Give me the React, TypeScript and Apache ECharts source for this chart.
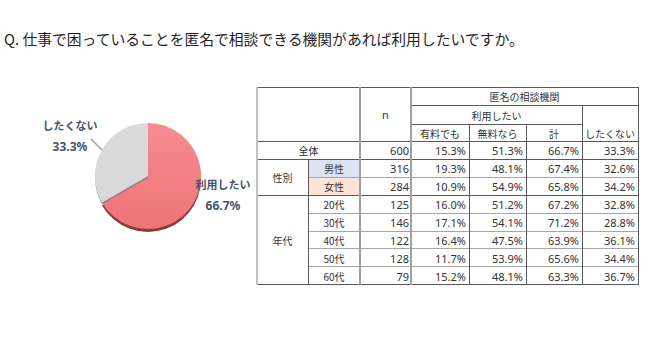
import React, { useEffect, useRef } from 'react';
import * as echarts from 'echarts';

// ---- data ----
const titleText = 'Q. 仕事で困っていることを匿名で相談できる機関があれば利用したいですか。';
const pieNames = ['利用したい', 'したくない'];
const pieValues = [66.7, 33.3];

const headerTop = '匿名の相談機関';
const headerMid = '利用したい';
const headerN = 'n';
const subHeaders = ['有料でも', '無料なら', '計', 'したくない'];
const groupNames = ['性別', '年代'];
const rowLabels = ['全体', '男性', '女性', '20代', '30代', '40代', '50代', '60代'];
const nValues = [600, 316, 284, 125, 146, 122, 128, 79];
const paidPct = [15.3, 19.3, 10.9, 16.0, 17.1, 16.4, 11.7, 15.2];
const freePct = [51.3, 48.1, 54.9, 51.2, 54.1, 47.5, 53.9, 48.1];
const totalPct = [66.7, 67.4, 65.8, 67.2, 71.2, 63.9, 65.6, 63.3];
const notPct = [33.3, 32.6, 34.2, 32.8, 28.8, 36.1, 34.4, 36.7];

// ---- layout (table units, grid-relative; 1 unit = 1 px) ----
const GRID_LEFT = 257;
const GRID_TOP = 87;
const COLS = [0, 51, 103, 154, 212, 269, 325, 381];
const HEAD = [0, 18, 37, 54.5];
const ROW_H = 17.9;
const TBL_H = 198;
const rowTop = (i: number) => HEAD[3] + i * ROW_H;
const LEADER: number[][] = [[102, 150], [97, 145], [91, 139]];

const CJK = "'Noto Sans CJK JP', sans-serif";
const LAT = "'Noto Sans', 'Noto Sans CJK JP', sans-serif";

type Cell = { x0: number; x1: number; y0: number; y1: number; text: string; align: 'center' | 'right'; fill?: string; font: string; size: number };

function buildCells(): Cell[] {
  const cells: Cell[] = [];
  const c = (x0: number, x1: number, y0: number, y1: number, text: string, align: 'center' | 'right' = 'center', font = CJK, size = 10, fill?: string) =>
    cells.push({ x0, x1, y0, y1, text, align, font, size, fill });
  c(COLS[2], COLS[3], HEAD[0], HEAD[3], headerN, 'center', LAT, 11);
  c(COLS[3], COLS[7], HEAD[0], HEAD[1], headerTop);
  c(COLS[3], COLS[6], HEAD[1], HEAD[2], headerMid);
  subHeaders.forEach((s, k) => c(COLS[3 + k], COLS[4 + k], HEAD[2], HEAD[3], s));
  c(COLS[0], COLS[2], rowTop(0), rowTop(1), rowLabels[0]);
  c(COLS[0], COLS[1], rowTop(1), rowTop(3), groupNames[0]);
  c(COLS[0], COLS[1], rowTop(3), rowTop(8), groupNames[1]);
  const fills: Record<number, string> = { 1: '#DCE3F2', 2: '#FCE4D6' };
  for (let i = 0; i < rowLabels.length; i++) {
    if (i > 0) c(COLS[1], COLS[2], rowTop(i), rowTop(i + 1), rowLabels[i], 'center', CJK, 10, fills[i]);
    c(COLS[2], COLS[3], rowTop(i), rowTop(i + 1), String(nValues[i]), 'right', LAT, 11);
    [paidPct, freePct, totalPct, notPct].forEach((arr, k) =>
      c(COLS[3 + k], COLS[4 + k], rowTop(i), rowTop(i + 1), arr[i].toFixed(1) + '%', 'right', LAT, 11)
    );
  }
  return cells;
}

type Ln = { x0: number; y0: number; x1: number; y1: number; color: string; w: number };
function buildLines(): Ln[] {
  const L: Ln[] = [];
  const DARK = '#595959', MINOR = '#a6a6a6', GRAY2 = '#a0a0a0', LEFT = '#bfbfbf';
  const h = (y: number, x0: number, x1: number, color = DARK, w = 1) => L.push({ x0, y0: y, x1, y1: y, color, w });
  const v = (x: number, y0: number, y1: number, color = DARK, w = 1) => L.push({ x0: x, y0, x1: x, y1, color, w });
  h(0, COLS[0], COLS[7]);
  h(HEAD[1], COLS[3], COLS[7]);
  h(HEAD[2], COLS[3], COLS[6]);
  h(HEAD[3], COLS[0], COLS[7]);
  h(rowTop(1), COLS[0], COLS[7]);
  h(rowTop(2), COLS[1], COLS[7], MINOR);
  h(rowTop(3), COLS[0], COLS[7]);
  for (let i = 4; i < 8; i++) h(rowTop(i), COLS[1], COLS[7], MINOR);
  h(rowTop(8), COLS[0], COLS[7]);
  v(COLS[1], rowTop(1), rowTop(8));
  v(COLS[4], HEAD[2], rowTop(8));
  v(COLS[5], HEAD[2], rowTop(8));
  v(COLS[6], HEAD[1], rowTop(8));
  v(COLS[7], 0, rowTop(8));
  v(COLS[2], 0, rowTop(8), GRAY2, 2);
  v(COLS[3], 0, rowTop(8), GRAY2, 2);
  v(COLS[0], 0, rowTop(8), LEFT, 2);
  // pie leader line (page px converted to grid units)
  L.push({
    x0: LEADER[0][0] - GRID_LEFT, y0: LEADER[0][1] - GRID_TOP,
    x1: LEADER[2][0] - GRID_LEFT, y1: LEADER[2][1] - GRID_TOP,
    color: '#a8a8a8', w: 1.3,
  });
  return L;
}

export default function App() {
  const ref = useRef<HTMLDivElement>(null);
  useEffect(() => {
    if (!ref.current) return;
    const chart = echarts.init(ref.current, undefined, { renderer: 'svg' });
    const cells = buildCells();
    const lines = buildLines();
    const crisp = (p: number, w: number) => (w % 2 === 1 ? Math.round(p - 0.5) + 0.5 : Math.round(p));

    const labelPos: Record<number, [number, number]> = { 0: [223, 194.5], 1: [70, 135.5] };

    chart.setOption({
      animation: false,
      backgroundColor: '#ffffff',
      title: {
        text: titleText,
        left: 4,
        top: 31,
        padding: 0,
        textStyle: { fontSize: 14.8, fontWeight: 'normal', color: '#1f1f1f', fontFamily: CJK },
      },
      grid: { left: GRID_LEFT, top: GRID_TOP, width: COLS[7], height: TBL_H },
      xAxis: { type: 'value', min: 0, max: COLS[7], show: false },
      yAxis: { type: 'value', min: 0, max: TBL_H, inverse: true, show: false },
      series: [
        {
          type: 'pie',
          z: 1,
          center: [148, 176],
          radius: 53,
          startAngle: 90,
          clockwise: true,
          label: {
            show: true,
            overflow: 'none',
            width: 80,
            formatter: '{n|{b}}\n{v|{c}%}',
            color: '#44546A',
            rich: {
              n: { fontSize: 11, fontWeight: 'bold', fontFamily: CJK, color: '#44546A', lineHeight: 22, align: 'center' },
              v: { fontSize: 12, fontWeight: 'bold', fontFamily: LAT, color: '#44546A', lineHeight: 22, align: 'center' },
            },
          },
          labelLine: { show: true, length: 8, length2: 4, lineStyle: { color: '#a8a8a8', width: 1.3 } },
          labelLayout: (p: any) =>
            p.dataIndex === 1
              ? { x: labelPos[1][0], y: labelPos[1][1], align: 'center', verticalAlign: 'middle', labelLinePoints: LEADER }
              : { x: labelPos[0][0], y: labelPos[0][1], align: 'center', verticalAlign: 'middle' },
          data: pieNames.map((name, i) => ({
            name,
            value: pieValues[i],
            labelLine: { show: i === 1 },
            itemStyle:
              i === 0
                ? {
                    color: new echarts.graphic.LinearGradient(0, 0, 0, 1, [
                      { offset: 0, color: '#F58D90' },
                      { offset: 1, color: '#EE7376' },
                    ]),
                    shadowColor: 'rgba(130,35,35,0.9)',
                    shadowOffsetY: 3,
                    shadowBlur: 1,
                  }
                : {
                    color: '#D9D9D9',
                    shadowColor: 'rgba(120,120,120,0.7)',
                    shadowOffsetY: 2,
                    shadowBlur: 1,
                  },
          })),
        },
        {
          type: 'custom',
          coordinateSystem: 'cartesian2d',
          clip: false,
          z: 2,
          silent: true,
          data: cells.map((c) => [c.x0, c.y0, c.x1, c.y1]),
          renderItem: (params: any, api: any) => {
            const cell = cells[params.dataIndex];
            const p0 = api.coord([api.value(0), api.value(1)]);
            const p1 = api.coord([api.value(2), api.value(3)]);
            const children: any[] = [];
            if (cell.fill) {
              children.push({ type: 'rect', shape: { x: p0[0], y: p0[1], width: p1[0] - p0[0], height: p1[1] - p0[1] }, style: { fill: cell.fill } });
            }
            const pad = cell.text.endsWith('%') ? 3 : 2;
            children.push({
              type: 'text',
              x: cell.align === 'center' ? (p0[0] + p1[0]) / 2 : p1[0] - pad,
              y: (p0[1] + p1[1]) / 2 + 0.5,
              style: {
                text: cell.text,
                fill: '#333333',
                fontSize: cell.size,
                fontFamily: cell.font,
                align: cell.align,
                verticalAlign: 'middle',
              },
            });
            return { type: 'group', children };
          },
        },
        {
          type: 'custom',
          coordinateSystem: 'cartesian2d',
          clip: false,
          z: 10,
          silent: true,
          data: lines.map((l) => [l.x0, l.y0, l.x1, l.y1]),
          renderItem: (params: any, api: any) => {
            const l = lines[params.dataIndex];
            const p0 = api.coord([api.value(0), api.value(1)]);
            const p1 = api.coord([api.value(2), api.value(3)]);
            const vert = l.x0 === l.x1;
            const horz = l.y0 === l.y1;
            let x1 = p0[0], x2 = p1[0], y1 = p0[1], y2 = p1[1];
            if (vert) { x1 = x2 = crisp(p0[0], l.w); y1 = Math.round(y1); y2 = Math.round(y2); }
            if (horz) { y1 = y2 = crisp(p0[1], l.w); x1 = Math.round(x1); x2 = Math.round(x2); }
            return { type: 'line', shape: { x1, y1, x2, y2 }, style: { stroke: l.color, lineWidth: l.w } };
          },
        },
      ],
    });
    return () => chart.dispose();
  }, []);
  return <div ref={ref} style={{ position: 'absolute', left: 0, top: 0, width: 650, height: 356, background: '#fff' }} />;
}
